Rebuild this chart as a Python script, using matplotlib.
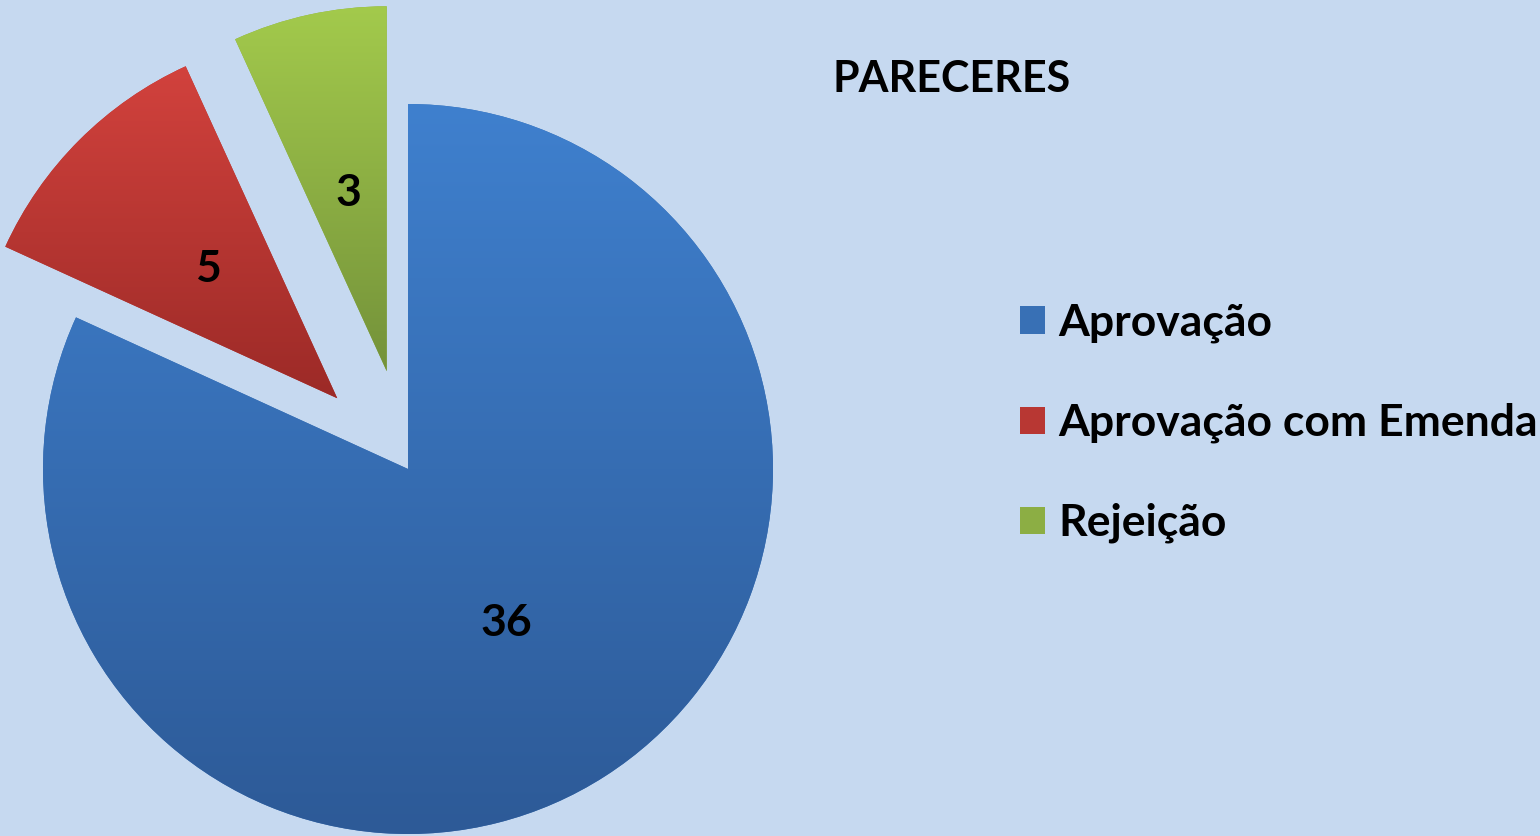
import numpy as np
import matplotlib.pyplot as plt
from matplotlib.colors import LinearSegmentedColormap

# dados
categorias = ['Aprovação', 'Aprovação com Emenda', 'Rejeição']
valores = [36, 5, 3]
destaque = [0, 100, 100]

# cores (topo -> base do gradiente)
cor_topo = ['#3F80CE', '#D2423D', '#A3CA4C']
cor_base = ['#2D5A97', '#9C2A27', '#74923A']
cor_meio = ['#3870B5', '#B83733', '#8CAE44']
FUNDO = '#C6D9F0'

plt.rcParams['font.family'] = ['Lato', 'DejaVu Sans']

fig = plt.figure(figsize=(15.4, 8.36), dpi=100, facecolor=FUNDO)
ax = fig.add_axes([0, 0, 1, 1])

total = sum(valores)
wedges, _, numeros = ax.pie(valores, explode=destaque, center=(408, 367), radius=365,
                            startangle=90, counterclock=False, colors=cor_meio,
                            autopct=lambda p: f'{round(p * total / 100)}',
                            pctdistance=0.5,
                            textprops=dict(fontsize=32, fontweight='bold', color='black'))

# gradiente vertical em cada fatia
for w, c1, c2 in zip(wedges, cor_topo, cor_base):
    ext = w.get_path().get_extents()
    cmap = LinearSegmentedColormap.from_list('g', [c2, c1])
    grad = np.linspace(0, 1, 256).reshape(-1, 1)
    im = ax.imshow(grad, extent=[ext.x0, ext.x1, ext.y0, ext.y1], origin='lower',
                   cmap=cmap, aspect='auto', zorder=1.5)
    im.set_clip_path(w)
for t in numeros:
    t.set_zorder(3)

ax.set_xlim(0, 1540)
ax.set_ylim(0, 836)
ax.axis('off')

fig.text(833 / 1540, (836 - 92) / 836, 'PARECERES', fontsize=31, fontweight='bold',
         ha='left', va='baseline')

leg = ax.legend(wedges, categorias, loc='center left', bbox_to_anchor=(1020 / 1540, 413 / 836),
                frameon=False, prop=dict(size=32, weight='bold'), handlelength=0.56,
                handleheight=0.56, handletextpad=0.3, labelspacing=1.34, borderpad=0,
                borderaxespad=0)

fig.savefig('out.png', dpi=100, facecolor=FUNDO)
